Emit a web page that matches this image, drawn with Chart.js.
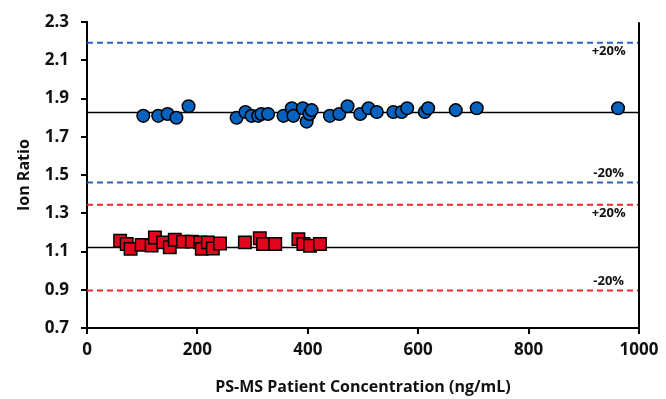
<!DOCTYPE html>
<html>
<head>
<meta charset="utf-8">
<script src="https://cdn.jsdelivr.net/npm/chart.js@4.4.1/dist/chart.umd.min.js"></script>
<style>
  html, body { margin: 0; padding: 0; background: #fff; }
  #wrap { width: 666px; height: 399px; }
</style>
</head>
<body>
<div id="wrap"><canvas id="ionChart" width="666" height="399"></canvas></div>
<script>
// blue series (upper cluster)
var concBlue = [102, 129, 146, 162, 184, 271, 287, 298, 310, 316, 328, 356, 371, 374, 391, 398, 403, 407,
                440, 457, 472, 495, 510, 525, 555, 570, 580, 612, 618, 668, 706, 962];
var ratioBlue = [1.81, 1.81, 1.82, 1.80, 1.86, 1.80, 1.83, 1.81, 1.81, 1.82, 1.82, 1.81, 1.85, 1.81, 1.85, 1.78, 1.82, 1.84,
                 1.81, 1.82, 1.86, 1.82, 1.85, 1.83, 1.83, 1.83, 1.85, 1.83, 1.85, 1.84, 1.85, 1.85];

// red series (lower cluster)
var concRed = [60, 72, 79, 99, 117, 123, 138, 150, 159, 174, 190, 205, 208, 219, 228, 241,
               286, 313, 319, 341, 383, 392, 404, 422];
var ratioRed = [1.157, 1.14, 1.114, 1.135, 1.131, 1.174, 1.148, 1.122, 1.162, 1.152, 1.152, 1.148, 1.114, 1.148, 1.116, 1.142,
                1.148, 1.17, 1.14, 1.14, 1.165, 1.14, 1.13, 1.14];

// mean ion ratios, limits are +/-20%
var meanBlue = 1.827;
var meanRed = 1.121;
var limitPct = 0.2;

var xTicks = [0, 200, 400, 600, 800, 1000];
var yTicks = [0.7, 0.9, 1.1, 1.3, 1.5, 1.7, 1.9, 2.1, 2.3];

var blueFill = '#0562BE';
var redFill = '#E3051B';
var blueDash = '#2B63C8';
var redDash = '#E8282B';
var fontFamily = '"Open Sans", "DejaVu Sans", sans-serif';

function toPoints(xs, ys) {
    return xs.map(function (x, i) { return { x: x, y: ys[i] }; });
}

function hLine(value, color, dash, label) {
    return {
        type: 'line',
        label: label,
        data: [{ x: xTicks[0], y: value }, { x: xTicks[xTicks.length - 1], y: value }],
        borderColor: color,
        borderWidth: dash ? 2 : 1.5,
        borderDash: dash ? [6, 4] : [],
        pointRadius: 0,
        fill: false
    };
}

var limitLabels = {
    id: 'limitLabels',
    afterDatasetsDraw: function (chart) {
        var ctx = chart.ctx;
        var xs = chart.scales.x;
        var ys = chart.scales.y;
        var area = chart.chartArea;
        ctx.save();
        // right border
        ctx.strokeStyle = '#000';
        ctx.lineWidth = 2;
        ctx.beginPath();
        ctx.moveTo(area.right, area.top);
        ctx.lineTo(area.right, area.bottom);
        ctx.stroke();

        ctx.fillStyle = '#111';
        ctx.font = 'bold 13px ' + fontFamily;
        ctx.textAlign = 'center';
        ctx.textBaseline = 'middle';
        var lx = xs.getPixelForValue(945);
        [meanBlue, meanRed].forEach(function (m) {
            var up = ys.getPixelForValue(m * (1 + limitPct));
            var lo = ys.getPixelForValue(m * (1 - limitPct));
            ctx.fillText('+20%', lx, up + 9);
            ctx.fillText('-20%', lx, lo - 9);
        });
        ctx.restore();
    }
};

document.addEventListener('DOMContentLoaded', function () {
    var ctx = document.getElementById('ionChart').getContext('2d');
    new Chart(ctx, {
        type: 'scatter',
        data: {
            datasets: [
                {
                    label: 'Blue',
                    data: toPoints(concBlue, ratioBlue),
                    backgroundColor: blueFill,
                    borderColor: '#000',
                    borderWidth: 1.5,
                    pointRadius: 6.3,
                    pointHoverRadius: 6.3
                },
                {
                    label: 'Red',
                    data: toPoints(concRed, ratioRed),
                    backgroundColor: redFill,
                    borderColor: '#000',
                    borderWidth: 1.5,
                    pointStyle: 'rect',
                    pointRadius: 8.8,
                    pointHoverRadius: 8.8
                },
                hLine(meanBlue, '#000', false, 'Blue mean'),
                hLine(meanBlue * (1 + limitPct), blueDash, true, 'Blue +20%'),
                hLine(meanBlue * (1 - limitPct), blueDash, true, 'Blue -20%'),
                hLine(meanRed, '#000', false, 'Red mean'),
                hLine(meanRed * (1 + limitPct), redDash, true, 'Red +20%'),
                hLine(meanRed * (1 - limitPct), redDash, true, 'Red -20%')
            ]
        },
        options: {
            responsive: false,
            animation: false,
            layout: { padding: { top: 20, right: 27, left: 0, bottom: 0 } },
            plugins: {
                legend: { display: false },
                tooltip: { enabled: false }
            },
            scales: {
                x: {
                    type: 'linear',
                    min: 0,
                    max: 1000,
                    afterBuildTicks: function (scale) {
                        scale.ticks = xTicks.map(function (v) { return { value: v }; });
                    },
                    afterFit: function (scale) { scale.height = 71; },
                    grid: { display: true, drawOnChartArea: false, drawTicks: true, tickLength: 6, color: '#000', lineWidth: 2 },
                    border: { display: true, color: '#000', width: 2 },
                    ticks: {
                        color: '#111',
                        padding: 6,
                        maxRotation: 0,
                        font: { family: fontFamily, weight: 'bold', size: 17 },
                        callback: function (v) { return String(v); }
                    },
                    title: {
                        display: true,
                        text: 'PS-MS Patient Concentration (ng/mL)',
                        color: '#111',
                        padding: { top: 4, bottom: 2 },
                        font: { family: fontFamily, weight: 'bold', size: 16 }
                    }
                },
                y: {
                    type: 'linear',
                    min: 0.7,
                    max: 2.3,
                    afterBuildTicks: function (scale) {
                        scale.ticks = yTicks.map(function (v) { return { value: v }; });
                    },
                    afterFit: function (scale) { scale.width = 87; },
                    grid: { display: true, drawOnChartArea: false, drawTicks: true, tickLength: 6, color: '#000', lineWidth: 2 },
                    border: { display: true, color: '#000', width: 2 },
                    ticks: {
                        color: '#111',
                        padding: 12,
                        font: { family: fontFamily, weight: 'bold', size: 17 },
                        callback: function (v) { return Number(v).toFixed(1); }
                    },
                    title: {
                        display: true,
                        text: 'Ion Ratio',
                        color: '#111',
                        padding: { top: 15, bottom: 4 },
                        font: { family: fontFamily, weight: 'bold', size: 16 }
                    }
                }
            }
        },
        plugins: [limitLabels]
    });
});
</script>
</body>
</html>
